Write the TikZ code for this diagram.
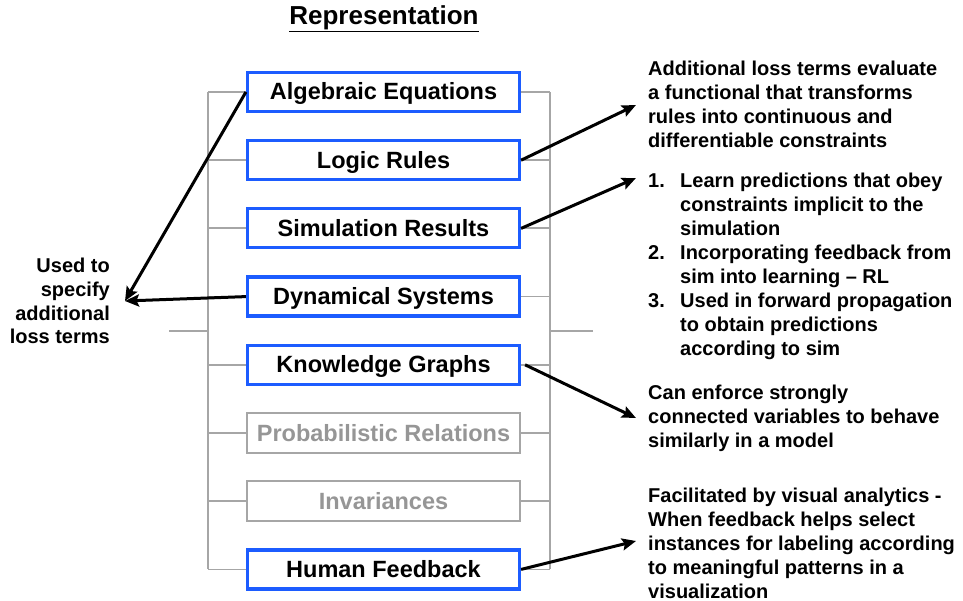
\documentclass[tikz,border=0pt]{standalone}
\usepackage{fontspec}
\setmainfont{Liberation Sans}
\usetikzlibrary{arrows.meta}
\definecolor{repblue}{RGB}{28,92,255}
\definecolor{bargray}{RGB}{166,166,166}
\definecolor{offgray}{RGB}{150,150,150}
\newcommand{\notelines}[2][l]{\begin{tabular}[t]{@{}#1@{}}#2\end{tabular}}
\begin{document}
\begin{tikzpicture}[x=1pt,y=-1pt,inner sep=0pt,
rep/.style={draw=repblue,line width=3.2pt,fill=white,minimum width=272,minimum height=39,text height=17pt,text depth=1pt,font=\fontsize{23.5}{26}\selectfont\bfseries},
repoff/.style={draw=bargray,line width=1.6pt,fill=white,minimum width=273,minimum height=40,text height=17pt,text depth=1pt,text=offgray,font=\fontsize{23.5}{26}\selectfont\bfseries},
bracket/.style={draw=bargray,line width=1.8pt},
note/.style={font=\fontsize{20}{24}\selectfont\bfseries,anchor=base west},
post/.style={->,>={Stealth[length=14pt,width=12pt,inset=2.5pt]},line width=3pt}]

\useasboundingbox (0,0) rectangle (963,601);

\node[font=\fontsize{26}{30}\selectfont\bfseries] (title) at (384,18.5) {\underline{Representation}};

\foreach \i/\t in {1/Algebraic Equations,2/Logic Rules,3/Simulation Results,4/Dynamical Systems,5/Knowledge Graphs,8/Human Feedback}{
\node[rep] (r_\i) at (383.5,92+68.2*\i-68.2) {\t};
}
\foreach \i/\t in {6/Probabilistic Relations,7/Invariances}{
\node[repoff] (r_\i) at (383.5,92+68.2*\i-68.2) {\t};
}

% the bracket round the list
\coordinate (lt) at (208,92);
\coordinate (lb) at (208,569.4);
\coordinate (rt) at (550,92);
\coordinate (rb) at (550,569.4);
\draw[bracket] (lt) -- (lb);
\draw[bracket] (rt) -- (rb);
\foreach \i in {1,...,8}{
\draw[bracket] (r_\i.west) -- (r_\i.west -| lt);
\draw[bracket] (r_\i.east) -- (r_\i.east -| rt);
}
\coordinate (lstub) at (169,331);
\coordinate (rstub) at (593,331);
\draw[bracket] (lstub) -- (lstub -| lt);
\draw[bracket] (rstub) -- (rstub -| rt);

% notes
\node[note,font=\fontsize{20}{23.6}\selectfont\bfseries,anchor=base east] (used) at (110,273) {\notelines[r]{Used to\\specify\\additional\\loss terms}};
\node[note] (n_logic) at (648,76) {\notelines{Additional loss terms evaluate\\a functional that transforms\\rules into continuous and\\differentiable constraints}};
\node[note] (n_sim) at (648,188) {\begin{tabular}[t]{@{}p{32pt}@{}l@{}}
1. & Learn predictions that obey\\
   & constraints implicit to the\\
   & simulation\\
2. & Incorporating feedback from\\
   & sim into learning -- RL\\
3. & Used in forward propagation\\
   & to obtain predictions\\
   & according to sim
\end{tabular}};
\node[note] (n_kg) at (648,399) {\notelines{Can enforce strongly\\connected variables to behave\\similarly in a model}};
\node[note] (n_hf) at (648,502) {\notelines{Facilitated by visual analytics -\\When feedback helps select\\instances for labeling according\\to meaningful patterns in a\\visualization}};

% arrows
\coordinate (usedtip) at (125,301);
\coordinate (logictip) at (636,105);
\coordinate (simtip) at (636,178);
\coordinate (kgtip) at (636,418);
\coordinate (hftip) at (636,541);
\draw[post] (r_1.west) -- (usedtip);
\draw[post] (r_4.west) -- (usedtip);
\draw[post] (r_2.east) -- (logictip);
\draw[post] (r_3.east) -- (simtip);
\draw[post] ([xshift=4]r_5.east) -- (kgtip);
\draw[post] (r_8.east) -- (hftip);

\end{tikzpicture}
\end{document}
